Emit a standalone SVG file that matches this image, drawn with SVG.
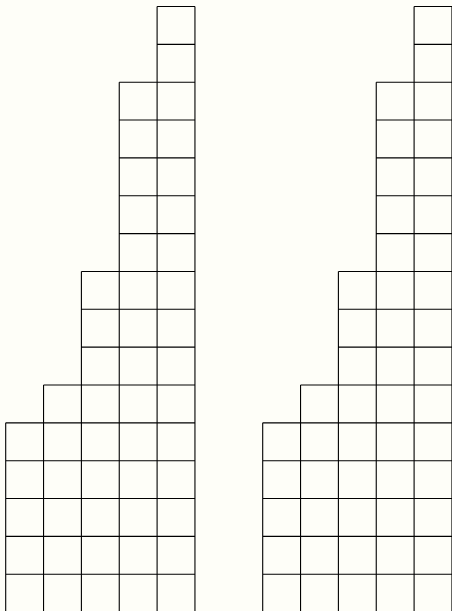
<svg xmlns="http://www.w3.org/2000/svg" xmlns:xlink="http://www.w3.org/1999/xlink" width="452" height="611" viewBox="0 0 452 611">
<style>
.grid{fill:none;stroke:#000;stroke-width:1.1}
</style>
<defs>
<path id="shape" class="grid" d="M0 416.35V605.6M37.85 378.5V605.6M75.7 264.95V605.6M113.55 75.7V605.6M151.4 0V605.6M189.25 0V605.6M151.4 0H189.25M151.4 37.85H189.25M113.55 75.7H189.25M113.55 113.55H189.25M113.55 151.4H189.25M113.55 189.25H189.25M113.55 227.1H189.25M75.7 264.95H189.25M75.7 302.8H189.25M75.7 340.65H189.25M37.85 378.5H189.25M0 416.35H189.25M0 454.2H189.25M0 492.05H189.25M0 529.9H189.25M0 567.75H189.25M0 605.6H189.25"/>
</defs>
<rect width="452" height="611" fill="#fefef8"/>
<g id="left-diagram" transform="translate(5.7,6.5)"><use xlink:href="#shape" href="#shape"/></g>
<g id="right-diagram" transform="translate(262.7,6.5)"><use xlink:href="#shape" href="#shape"/></g>
</svg>
